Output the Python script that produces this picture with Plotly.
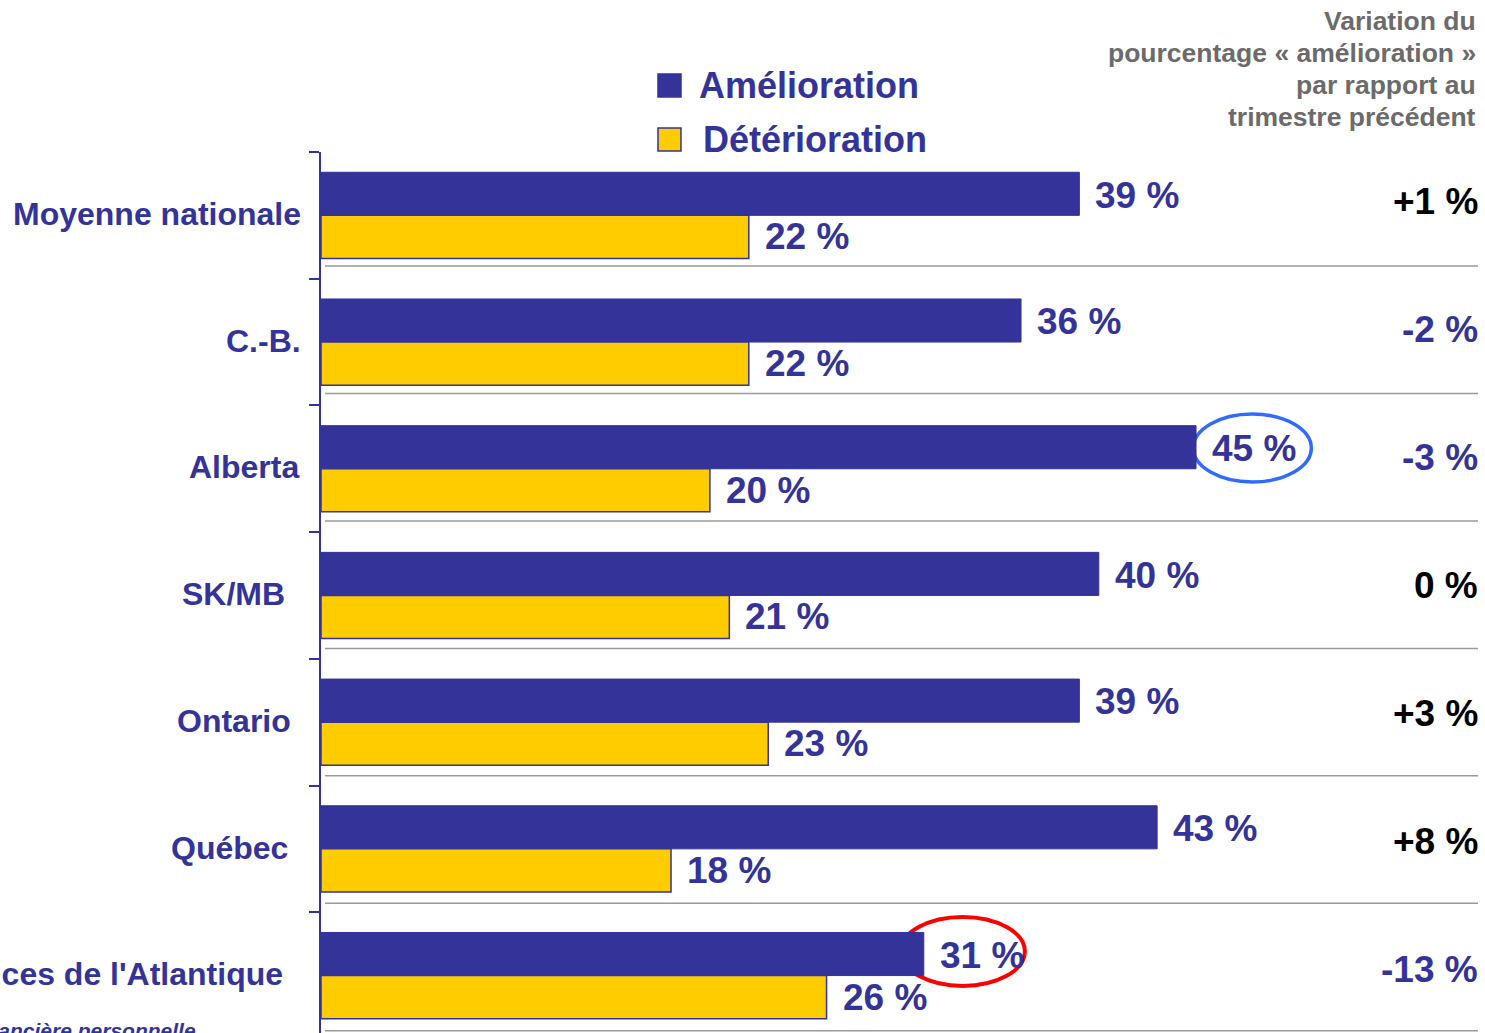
import plotly.graph_objects as go

categories = ["Moyenne nationale", "C.-B.", "Alberta", "SK/MB", "Ontario", "Québec",
              "Provinces de l'Atlantique"]
amelioration = [39, 36, 45, 40, 39, 43, 31]
deterioration = [22, 22, 20, 21, 23, 18, 26]
variation = ["+1 %", "-2 %", "-3 %", "0 %", "+3 %", "+8 %", "-13 %"]
header_lines = ["Variation du", "pourcentage « amélioration »", "par rapport au", "trimestre précédent"]
legend_names = ["Amélioration", "Détérioration"]
footnote = "Situation financière personnelle"

BLUE = "#333399"
YELLOW = "#FFCC00"
FONT = "Liberation Sans, Arial, sans-serif"

W, H = 1485, 1033
ML, MR, MT, MB = 321, 7, 152, 0
PW = W - ML - MR
PH = H - MT - MB

def px_x(px):
    return (px - ML) / PW

def px_y(py):
    return (H - py) / PH

fig = go.Figure()
fig.add_trace(go.Bar(y=categories, x=amelioration, orientation="h", name=legend_names[0],
                     marker=dict(color=BLUE, line=dict(color=BLUE, width=1)), showlegend=False))
fig.add_trace(go.Bar(y=categories, x=deterioration, orientation="h", name=legend_names[1],
                     marker=dict(color=YELLOW, line=dict(color=BLUE, width=1.5)), showlegend=False))

annotations = []
shapes = []
# value labels
for i, (a, d) in enumerate(zip(amelioration, deterioration)):
    annotations.append(dict(x=a, y=i - 0.16, xref="x", yref="y", text=f"{a} %", showarrow=False,
                            xanchor="left", yanchor="middle", xshift=14,
                            font=dict(family=FONT, size=37, color=BLUE, weight="bold")))
    annotations.append(dict(x=d, y=i + 0.17, xref="x", yref="y", text=f"{d} %", showarrow=False,
                            xanchor="left", yanchor="middle", xshift=14,
                            font=dict(family=FONT, size=37, color=BLUE, weight="bold")))
# variation column
for i, v in enumerate(variation):
    col = BLUE if v.startswith("-") else "#000000"
    annotations.append(dict(x=1, y=i - 0.106 + 0.0093 * i, xref="paper", yref="y", text=v,
                            showarrow=False, xanchor="right", yanchor="middle", xshift=2,
                            font=dict(family=FONT, size=37, color=col, weight="bold")))
# category labels
label_right = [301, 301, 299, 285, 291, 288, 283]
for i, (c, r) in enumerate(zip(categories, label_right)):
    annotations.append(dict(x=px_x(r), y=i - 0.01, xref="paper", yref="y", text=c, showarrow=False,
                            xanchor="right", yanchor="middle", xshift=2,
                            font=dict(family=FONT, size=32, color=BLUE, weight="bold")))
# header
for k, line in enumerate(header_lines):
    annotations.append(dict(x=px_x(1478), y=px_y(21 + 32 * k), xref="paper", yref="paper",
                            text=line, showarrow=False, xanchor="right", yanchor="middle",
                            font=dict(family=FONT, size=26.5, color="#6b6b6b", weight="bold")))
# legend
leg_y = [86, 140]
leg_x = [697, 701]
leg_fill = [BLUE, YELLOW]
for k, name in enumerate(legend_names):
    annotations.append(dict(x=px_x(leg_x[k]), y=px_y(leg_y[k]), xref="paper", yref="paper",
                            text=name, showarrow=False, xanchor="left", yanchor="middle",
                            font=dict(family=FONT, size=36, color=BLUE, weight="bold")))
    shapes.append(dict(type="rect", xref="paper", yref="paper",
                       x0=px_x(658), x1=px_x(681), y0=px_y(leg_y[k] - 12), y1=px_y(leg_y[k] + 11),
                       fillcolor=leg_fill[k], line=dict(color=BLUE, width=1.5)))
# footnote
annotations.append(dict(x=px_x(198), y=px_y(1030), xref="paper", yref="paper", text=footnote,
                        showarrow=False, xanchor="right", yanchor="middle",
                        font=dict(family=FONT, size=21, color=BLUE, weight="bold", style="italic")))

# separators
for i in range(len(categories)):
    yy = i + 0.40 + 0.006 * i
    shapes.append(dict(type="line", xref="paper", yref="y", x0=px_x(325), x1=1, y0=yy, y1=yy,
                       line=dict(color="#9a9a9a", width=1.5), layer="below"))
# ellipses
shapes.append(dict(type="circle", xref="x", yref="y", x0=44.86, x1=50.93, y0=1.568, y1=2.105,
                   line=dict(color="#2f6bff", width=3.5), layer="below"))
shapes.append(dict(type="circle", xref="x", yref="y", x0=29.8, x1=36.2, y0=5.538, y1=6.082,
                   line=dict(color="#ff0000", width=4), layer="below"))

fig.update_layout(
    width=W, height=H, margin=dict(l=ML, r=MR, t=MT, b=MB, pad=0),
    paper_bgcolor="white", plot_bgcolor="white",
    barmode="group", bargap=0.32, bargroupgap=0,
    xaxis=dict(range=[0, PW / 19.445], visible=False, fixedrange=True),
    yaxis=dict(type="category", range=[-0.5 + PH / 126.7, -0.5], showticklabels=False,
               showline=True, linecolor=BLUE, linewidth=2, ticks="outside", ticklen=10,
               tickwidth=2, tickcolor=BLUE, tickson="boundaries", showgrid=False,
               zeroline=False, fixedrange=True),
    annotations=annotations, shapes=shapes,
)
fig.write_html("out.html")
